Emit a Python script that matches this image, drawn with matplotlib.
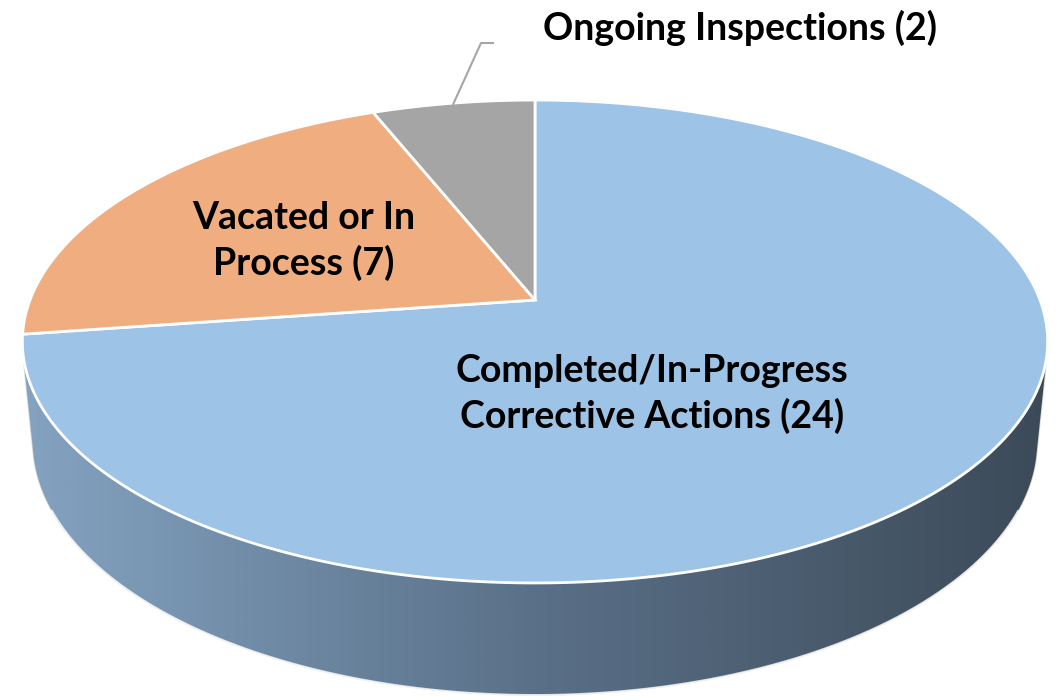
import numpy as np
import matplotlib
matplotlib.use("Agg")
import matplotlib.pyplot as plt
from matplotlib.patches import Polygon
from matplotlib.colors import LinearSegmentedColormap

# data
labels = ["Completed/In-Progress\nCorrective Actions (24)",
          "Vacated or In\nProcess (7)",
          "Ongoing Inspections (2)"]
values = [24, 7, 2]
colors = ["#9DC3E6", "#F0AE80", "#A5A5A5"]

W, H = 1058, 699
fig = plt.figure(figsize=(W / 100, H / 100), dpi=100)
ax = fig.add_axes([0, 0, 1, 1])
ax.set_xlim(0, W)
ax.set_ylim(H, 0)
ax.axis("off")

# perspective view of a tilted cylinder (pixel space)
X0, Y0, S = 535, 300, 505
sin_e, cos_e = 0.464, 0.886
p = 0.194
T = 0.225


def proj(theta, r=1.0, h=0.0):
    t = np.radians(theta)
    cx, cy = r * np.cos(t), r * np.sin(t)
    den = 1 + p * (cy * cos_e - h * sin_e)
    u = cx / den
    v = (cy * sin_e + h * cos_e) / den
    return X0 + S * u, Y0 - S * v


def hull(pts):
    pts = sorted(map(tuple, pts))
    def half(seq):
        out = []
        for q in seq:
            while len(out) >= 2 and ((out[-1][0] - out[-2][0]) * (q[1] - out[-2][1])
                                     - (out[-1][1] - out[-2][1]) * (q[0] - out[-2][0])) <= 0:
                out.pop()
            out.append(q)
        return out
    lo, up = half(pts), half(pts[::-1])
    return np.array(lo[:-1] + up[:-1])


th = np.linspace(0, 360, 721)
top = np.column_stack(proj(th, 1, 0))
bot = np.column_stack(proj(th, 1, -T))
outline = hull(np.vstack([top, bot]))

# side wall with horizontal gradient
wall = Polygon(outline, closed=True, facecolor="none", edgecolor="#D4D4D4", lw=1.2, zorder=1)
ax.add_patch(wall)
cmap = LinearSegmentedColormap.from_list("wall", ["#84A3C1", "#5A7088", "#3C4A58"])
xmin, xmax = outline[:, 0].min(), outline[:, 0].max()
grad = np.linspace(0, 1, 512)[None, :]
im = ax.imshow(grad, cmap=cmap, aspect="auto", extent=[xmin, xmax, H, 0], zorder=1)
im.set_clip_path(wall)

# white line at the bottom of the wall (front)
fr = np.linspace(205, 335, 200)
bx, by = proj(fr, 1, -T)
ax.plot(bx, by, color="white", lw=1.2, alpha=0.8, zorder=2)

# top face slices, clockwise from 12 o'clock
total = sum(values)
start = 90.0
mids = []
for val, col in zip(values, colors):
    span = 360.0 * val / total
    a = np.linspace(start, start - span, max(int(span * 2), 4))
    xs, ys = proj(a, 1, 0)
    pts = np.column_stack([np.r_[X0, xs], np.r_[Y0, ys]])
    ax.add_patch(Polygon(pts, closed=True, facecolor=col, edgecolor="white",
                         lw=2, joinstyle="miter", zorder=3))
    mids.append(start - span / 2)
    start -= span

font = dict(family="Lato", weight="bold", fontsize=27, color="black", ha="center",
            va="center", linespacing=1.33, zorder=5)
ax.text(652, 394, labels[0], **font)
ax.text(304, 241, labels[1], **font)
ax.text(740, 28, labels[2], **font)

# leader line for the small slice
lx, ly = proj(mids[2], 1, 0)
ax.plot([493, 481, lx], [43, 43, ly + 1], color="#A6A6A6", lw=1.5, zorder=4)

fig.savefig("out.png", dpi=100)
